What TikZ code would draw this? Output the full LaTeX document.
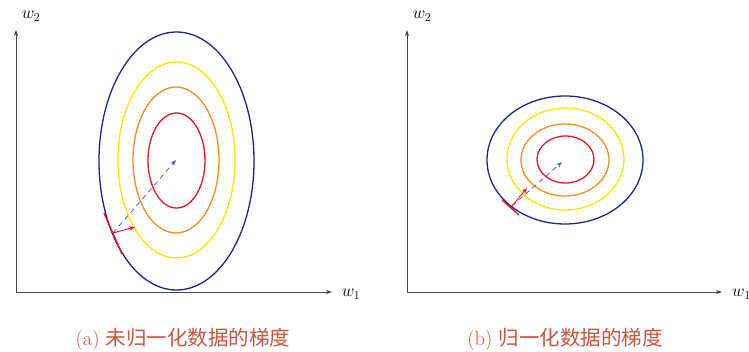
\documentclass[tikz,border=0pt]{standalone}
\usepackage{fontspec}
\newfontfamily\cjk{Noto Sans CJK SC}
\usetikzlibrary{arrows.meta,shapes.geometric}
\definecolor{cblue}{RGB}{35,35,135}
\definecolor{cyellow}{RGB}{255,228,0}
\definecolor{corange}{RGB}{248,140,30}
\definecolor{cred}{RGB}{228,22,40}
\definecolor{cdash}{RGB}{80,100,170}
\definecolor{ccap}{RGB}{200,85,65}
\definecolor{caxis}{RGB}{70,70,70}
\tikzset{
  axis/.style={draw=caxis,line width=0.7pt,-{Stealth[length=6pt,width=4pt]}},
  ell/.style={ellipse,draw,line width=1.3pt,inner sep=0pt,fill=none},
  dasharrow/.style={draw=cdash,line width=0.8pt,dash pattern=on 5pt off 4pt,-{Stealth[length=6pt,width=4.5pt]}},
  gradarrow/.style={draw=cred,line width=0.9pt,-{Stealth[length=6pt,width=4.5pt]}},
  tangent/.style={draw=cred,line width=1.4pt},
  axlabel/.style={inner sep=0pt,font=\fontsize{17}{17}\selectfont},
  caption/.style={inner sep=0pt,text=ccap,font=\fontsize{20.5}{21}\selectfont}
}
\begin{document}
\begin{tikzpicture}[x=1pt,y=-1pt]
\useasboundingbox (0,0) rectangle (749,352);
% ---- left panel
\coordinate (oa) at (16,292);
\coordinate (ya) at (16,30);
\coordinate (xa) at (332,292);
\draw[axis] (oa) -- (ya);
\draw[axis] (oa) -- (xa);
\node[axlabel] (w2a) at (31,16) {$w_2$};
\node[axlabel] (w1a) at (351,294) {$w_1$};
\node[ell,draw=cblue,minimum width=155pt,minimum height=258pt] (ea1) at (176.5,161) {};
\node[ell,draw=cyellow,minimum width=117pt,minimum height=196pt] (ea2) at (176.5,160) {};
\node[ell,draw=corange,minimum width=86pt,minimum height=146pt] (ea3) at (176,160) {};
\node[ell,draw=cred,minimum width=57pt,minimum height=95pt] (ea4) at (176.5,160.5) {};
\coordinate (pa) at (113,233);
\coordinate (ca) at (176,160);
\coordinate (ga) at (135,227);
\coordinate (ta1) at (104,213);
\coordinate (ta2) at (122,254);
\draw[tangent] (ta1) -- (ta2);
\draw[dasharrow] (pa) -- (ca);
\draw[gradarrow] (pa) -- (ga);
\node[caption] (capa) at (183,339) {(a) {\cjk 未归一化数据的梯度}};
% ---- right panel
\coordinate (ob) at (407,292);
\coordinate (yb) at (407,30);
\coordinate (xb) at (722,292);
\draw[axis] (ob) -- (yb);
\draw[axis] (ob) -- (xb);
\node[axlabel] (w2b) at (422,16) {$w_2$};
\node[axlabel,anchor=west] (w1b) at (732,294) {$w_1$};
\node[ell,draw=cblue,minimum width=156pt,minimum height=128pt] (eb1) at (565,160) {};
\node[ell,draw=cyellow,minimum width=117pt,minimum height=102pt] (eb2) at (565.5,159) {};
\node[ell,draw=corange,minimum width=88pt,minimum height=72pt] (eb3) at (565,160) {};
\node[ell,draw=cred,minimum width=57pt,minimum height=47pt] (eb4) at (565.5,159.5) {};
\coordinate (pb) at (512,206);
\coordinate (cb) at (562,162);
\coordinate (gb) at (527,188);
\coordinate (tb1) at (502,200);
\coordinate (tb2) at (519,215);
\draw[tangent] (tb1) -- (tb2);
\draw[dasharrow] (pb) -- (cb);
\draw[gradarrow] (pb) -- (gb);
\node[caption] (capb) at (565,339) {(b) {\cjk 归一化数据的梯度}};
\end{tikzpicture}
\end{document}
